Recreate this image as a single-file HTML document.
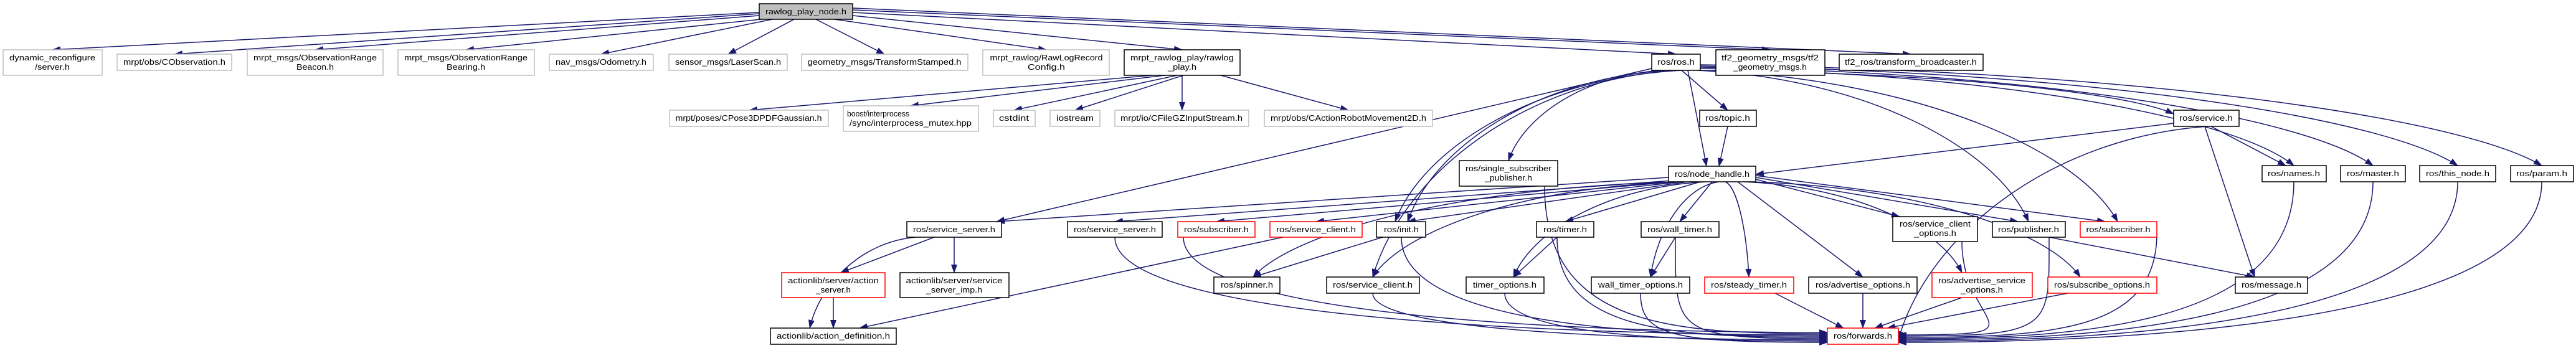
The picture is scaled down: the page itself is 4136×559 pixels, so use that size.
<!DOCTYPE html>
<html><head><meta charset="utf-8">
<style>
html,body{margin:0;padding:0;background:#fff;}
svg{display:block;}
text{font-family:"Liberation Sans","DejaVu Sans",sans-serif;font-size:13px;fill:#000;}
</style></head>
<body>
<svg id="g" xmlns="http://www.w3.org/2000/svg" width="4136" height="559" viewBox="0 0 4136 559">
<defs>
<marker id="a" markerUnits="userSpaceOnUse" markerWidth="14" markerHeight="10" refX="13" refY="5" orient="auto">
<path d="M0,0 L14,5 L0,10 z" fill="#191970"/>
</marker>
</defs>
<g id="edges" fill="none" stroke="#191970" stroke-width="1.5"></g>
<g id="nodes" stroke-width="1.5">
<g fill="#fff" stroke="#bfbfbf">
<rect x="5" y="80" width="159" height="41"/>
<rect x="188" y="87" width="184" height="26"/>
<rect x="397" y="80" width="218" height="41"/>
<rect x="639" y="80" width="219" height="41"/>
<rect x="882" y="87" width="167" height="26"/>
<rect x="1074" y="87" width="190" height="26"/>
<rect x="1287" y="87" width="267" height="26"/>
<rect x="1578" y="80" width="203" height="41"/>
<rect x="1075" y="177" width="255" height="26"/>
<rect x="1354" y="170" width="217" height="41"/>
<rect x="1595" y="177" width="67" height="26"/>
<rect x="1686" y="177" width="80" height="26"/>
<rect x="1790" y="177" width="215" height="26"/>
<rect x="2030" y="177" width="270" height="26"/>
</g>
<rect x="1219" y="6" width="150" height="25" fill="#bfbfbf" stroke="#000"/>
<g fill="#fff" stroke="#000">
<rect x="1805" y="80" width="186" height="41"/>
<rect x="2652" y="87" width="78" height="26"/>
<rect x="2755" y="80" width="175" height="41"/>
<rect x="2953" y="87" width="231" height="26"/>
<rect x="2729" y="177" width="91" height="26"/>
<rect x="3490" y="177" width="105" height="26"/>
<rect x="2343" y="258" width="158" height="41"/>
<rect x="2679" y="267" width="140" height="25"/>
<rect x="3632" y="266" width="103" height="26"/>
<rect x="3758" y="266" width="104" height="26"/>
<rect x="3885" y="266" width="122" height="26"/>
<rect x="4031" y="266" width="101" height="26"/>
<rect x="1456" y="356" width="152" height="25"/>
<rect x="1714" y="356" width="152" height="25"/>
<rect x="2210" y="356" width="79" height="25"/>
<rect x="2467" y="356" width="92" height="25"/>
<rect x="2635" y="356" width="125" height="25"/>
<rect x="3039" y="348" width="136" height="40"/>
<rect x="3199" y="356" width="117" height="25"/>
<rect x="1445" y="438" width="175" height="40"/>
<rect x="1949" y="445" width="106" height="26"/>
<rect x="2130" y="445" width="149" height="26"/>
<rect x="2354" y="445" width="125" height="26"/>
<rect x="2555" y="445" width="158" height="26"/>
<rect x="2904" y="445" width="174" height="26"/>
<rect x="3589" y="445" width="116" height="26"/>
<rect x="1237" y="527" width="202" height="26"/>
</g>
<g fill="#fff" stroke="#ff0000">
<rect x="1891" y="356" width="124" height="25"/>
<rect x="2039" y="356" width="148" height="25"/>
<rect x="3340" y="356" width="123" height="25"/>
<rect x="1255" y="438" width="166" height="40"/>
<rect x="2737" y="445" width="143" height="26"/>
<rect x="3102" y="438" width="161" height="40"/>
<rect x="3288" y="445" width="175" height="26"/>
<rect x="2934" y="527" width="114" height="26"/>
</g>
</g>
<g text-anchor="middle">
<text x="1294" y="23" textLength="130" lengthAdjust="spacingAndGlyphs">rawlog_play_node.h</text>
<text x="84" y="97" textLength="138" lengthAdjust="spacingAndGlyphs">dynamic_reconfigure</text>
<text x="84" y="112" textLength="56" lengthAdjust="spacingAndGlyphs">/server.h</text>
<text x="280" y="104" textLength="164" lengthAdjust="spacingAndGlyphs">mrpt/obs/CObservation.h</text>
<text x="506" y="97" textLength="198" lengthAdjust="spacingAndGlyphs">mrpt_msgs/ObservationRange</text>
<text x="506" y="112" textLength="60" lengthAdjust="spacingAndGlyphs">Beacon.h</text>
<text x="748" y="97" textLength="198" lengthAdjust="spacingAndGlyphs">mrpt_msgs/ObservationRange</text>
<text x="748" y="112" textLength="62" lengthAdjust="spacingAndGlyphs">Bearing.h</text>
<text x="965" y="104" textLength="146" lengthAdjust="spacingAndGlyphs">nav_msgs/Odometry.h</text>
<text x="1169" y="104" textLength="170" lengthAdjust="spacingAndGlyphs">sensor_msgs/LaserScan.h</text>
<text x="1420" y="104" textLength="247" lengthAdjust="spacingAndGlyphs">geometry_msgs/TransformStamped.h</text>
<text x="1680" y="97" textLength="181" lengthAdjust="spacingAndGlyphs">mrpt_rawlog/RawLogRecord</text>
<text x="1680" y="112" textLength="60" lengthAdjust="spacingAndGlyphs">Config.h</text>
<text x="1898" y="97" textLength="166" lengthAdjust="spacingAndGlyphs">mrpt_rawlog_play/rawlog</text>
<text x="1898" y="112" textLength="46" lengthAdjust="spacingAndGlyphs">_play.h</text>
<text x="2691" y="104" textLength="60" lengthAdjust="spacingAndGlyphs">ros/ros.h</text>
<text x="2842" y="97" textLength="156" lengthAdjust="spacingAndGlyphs">tf2_geometry_msgs/tf2</text>
<text x="2842" y="112" textLength="118" lengthAdjust="spacingAndGlyphs">_geometry_msgs.h</text>
<text x="3068" y="104" textLength="212" lengthAdjust="spacingAndGlyphs">tf2_ros/transform_broadcaster.h</text>
<text x="1202" y="194" textLength="235" lengthAdjust="spacingAndGlyphs">mrpt/poses/CPose3DPDFGaussian.h</text>
<text x="1410" y="187" textLength="100" lengthAdjust="spacingAndGlyphs">boost/interprocess</text>
<text x="1462" y="202" textLength="196" lengthAdjust="spacingAndGlyphs">/sync/interprocess_mutex.hpp</text>
<text x="1628" y="194" textLength="48" lengthAdjust="spacingAndGlyphs">cstdint</text>
<text x="1726" y="194" textLength="60" lengthAdjust="spacingAndGlyphs">iostream</text>
<text x="1897" y="194" textLength="196" lengthAdjust="spacingAndGlyphs">mrpt/io/CFileGZInputStream.h</text>
<text x="2165" y="194" textLength="250" lengthAdjust="spacingAndGlyphs">mrpt/obs/CActionRobotMovement2D.h</text>
<text x="2774" y="194" textLength="72" lengthAdjust="spacingAndGlyphs">ros/topic.h</text>
<text x="3542" y="194" textLength="86" lengthAdjust="spacingAndGlyphs">ros/service.h</text>
<text x="2422" y="275" textLength="138" lengthAdjust="spacingAndGlyphs">ros/single_subscriber</text>
<text x="2422" y="290" textLength="76" lengthAdjust="spacingAndGlyphs">_publisher.h</text>
<text x="2749" y="284" textLength="120" lengthAdjust="spacingAndGlyphs">ros/node_handle.h</text>
<text x="3683" y="283" textLength="84" lengthAdjust="spacingAndGlyphs">ros/names.h</text>
<text x="3810" y="283" textLength="84" lengthAdjust="spacingAndGlyphs">ros/master.h</text>
<text x="3946" y="283" textLength="102" lengthAdjust="spacingAndGlyphs">ros/this_node.h</text>
<text x="4081" y="283" textLength="82" lengthAdjust="spacingAndGlyphs">ros/param.h</text>
<text x="1532" y="373" textLength="132" lengthAdjust="spacingAndGlyphs">ros/service_server.h</text>
<text x="1790" y="373" textLength="132" lengthAdjust="spacingAndGlyphs">ros/service_server.h</text>
<text x="1953" y="373" textLength="104" lengthAdjust="spacingAndGlyphs">ros/subscriber.h</text>
<text x="2113" y="373" textLength="128" lengthAdjust="spacingAndGlyphs">ros/service_client.h</text>
<text x="2250" y="373" textLength="56" lengthAdjust="spacingAndGlyphs">ros/init.h</text>
<text x="2513" y="373" textLength="70" lengthAdjust="spacingAndGlyphs">ros/timer.h</text>
<text x="2697" y="373" textLength="104" lengthAdjust="spacingAndGlyphs">ros/wall_timer.h</text>
<text x="3107" y="364" textLength="114" lengthAdjust="spacingAndGlyphs">ros/service_client</text>
<text x="3107" y="379" textLength="68" lengthAdjust="spacingAndGlyphs">_options.h</text>
<text x="3257" y="373" textLength="98" lengthAdjust="spacingAndGlyphs">ros/publisher.h</text>
<text x="3401" y="373" textLength="103" lengthAdjust="spacingAndGlyphs">ros/subscriber.h</text>
<text x="1338" y="455" textLength="146" lengthAdjust="spacingAndGlyphs">actionlib/server/action</text>
<text x="1338" y="470" textLength="56" lengthAdjust="spacingAndGlyphs">_server.h</text>
<text x="1532" y="455" textLength="155" lengthAdjust="spacingAndGlyphs">actionlib/server/service</text>
<text x="1532" y="470" textLength="90" lengthAdjust="spacingAndGlyphs">_server_imp.h</text>
<text x="2002" y="462" textLength="84" lengthAdjust="spacingAndGlyphs">ros/spinner.h</text>
<text x="2204" y="462" textLength="128" lengthAdjust="spacingAndGlyphs">ros/service_client.h</text>
<text x="2416" y="462" textLength="102" lengthAdjust="spacingAndGlyphs">timer_options.h</text>
<text x="2634" y="462" textLength="136" lengthAdjust="spacingAndGlyphs">wall_timer_options.h</text>
<text x="2808" y="462" textLength="122" lengthAdjust="spacingAndGlyphs">ros/steady_timer.h</text>
<text x="2991" y="462" textLength="152" lengthAdjust="spacingAndGlyphs">ros/advertise_options.h</text>
<text x="3182" y="455" textLength="140" lengthAdjust="spacingAndGlyphs">ros/advertise_service</text>
<text x="3182" y="470" textLength="68" lengthAdjust="spacingAndGlyphs">_options.h</text>
<text x="3375" y="462" textLength="154" lengthAdjust="spacingAndGlyphs">ros/subscribe_options.h</text>
<text x="3647" y="462" textLength="96" lengthAdjust="spacingAndGlyphs">ros/message.h</text>
<text x="1338" y="544" textLength="182" lengthAdjust="spacingAndGlyphs">actionlib/action_definition.h</text>
<text x="2991" y="544" textLength="94" lengthAdjust="spacingAndGlyphs">ros/forwards.h</text>
</g>
</svg>
<script>
var E=[
['s',1219,20,84,80],['s',1219,22,280,87],['s',1219,25,506,80],['s',1222,31,748,80],
['s',1240,31,965,87],['s',1275,31,1169,87],['s',1310,31,1420,87],['s',1340,31,1680,80],
['s',1369,25,1898,80],['s',1369,20,2691,87],['s',1369,16,2842,80],['s',1369,13,3068,87],
['s',1850,121,1203,177],['s',1870,121,1462,170],['s',1890,121,1628,177],['s',1900,121,1726,177],
['s',1898,121,1898,177],['s',1960,121,2165,177],
['s',2700,113,2774,177],['g',2730,113,3490,183],['g',2670,113,2422,258],['s',2710,113,2740,267],
['g',2730,110,3683,266],['g',2730,108,3810,266],['g',2730,106,3946,266],['g',2730,104,4081,266],
['s',2652,110,1600,356],['g',2725,113,3257,356],['g',2728,113,3400,356],['g',2680,113,2260,356],
['g',2690,113,2204,445],['g',2700,113,2240,356],
['s',2774,203,2760,267],['s',3490,198,2819,280],['s',3550,203,3670,266],['s',3540,203,3620,445],
['g',3545,203,3048,545],
['s',2679,285,1600,356],['s',2685,290,1790,356],['s',2690,292,1953,356],['s',2700,292,2113,356],
['s',2710,292,2260,356],['s',2730,292,2513,356],['s',2749,292,2697,356],['g',2700,292,2204,445],
['g',2740,292,2430,445],['g',2760,292,2650,445],['g',2770,292,2808,445],['s',2790,292,2991,445],
['g',2800,292,3150,438],['g',2810,292,3340,445],['s',2819,288,3050,348],['s',2819,285,3240,356],
['s',2819,282,3380,356],['g',2700,292,2012,445],
['s',1500,381,1350,438],['s',1532,381,1532,438],['g',1470,381,1300,527],['s',1338,478,1338,527],
['s',2060,381,1380,527],['s',2220,381,2012,445],['s',2500,381,2430,445],['s',2690,381,2650,445],
['s',2850,471,2960,527],['s',2991,471,2991,527],['s',3150,478,3010,527],['s',3320,471,3030,527],
['s',3290,381,3620,445],
['h',1790,381,2934,538],['h',2250,381,2934,540],['h',2500,381,2934,542],['h',2690,381,2934,544],
['h',2204,471,2934,546],['h',2416,471,2934,548],['h',2634,471,2934,550],['h',2480,299,2934,536],
['h',1900,381,2934,534],
['r',3150,388,3048,538],['r',3290,381,3048,540],['r',3463,375,3048,542],['r',3683,292,3048,544],
['r',3810,292,3048,546],['r',3946,292,3048,548],['r',4081,292,3048,550]
];
var g=document.getElementById('edges'),ns='http://www.w3.org/2000/svg';
E.forEach(function(e){
 var t=e[0],x1=e[1],y1=e[2],x2=e[3],y2=e[4],d,dx=x2-x1,dy=y2-y1;
 if(t=='s'){d='M'+x1+','+y1+' L'+x2+','+y2;}
 else if(t=='g'){d='M'+x1+','+y1+' C'+(x1+dx*0.5)+','+(y1+dy*0.05)+' '+(x2-dx*0.1)+','+(y2-dy*0.5)+' '+x2+','+y2;}
 else if(t=='h'){d='M'+x1+','+y1+' C'+x1+','+(y2-10)+' '+(x2-250)+','+y2+' '+x2+','+y2;}
 else {d='M'+x1+','+y1+' C'+x1+','+(y2-10)+' '+(x2+250)+','+y2+' '+x2+','+y2;}
 var p=document.createElementNS(ns,'path');p.setAttribute('d',d);p.setAttribute('marker-end','url(#a)');g.appendChild(p);
});
</script>
</body></html>
